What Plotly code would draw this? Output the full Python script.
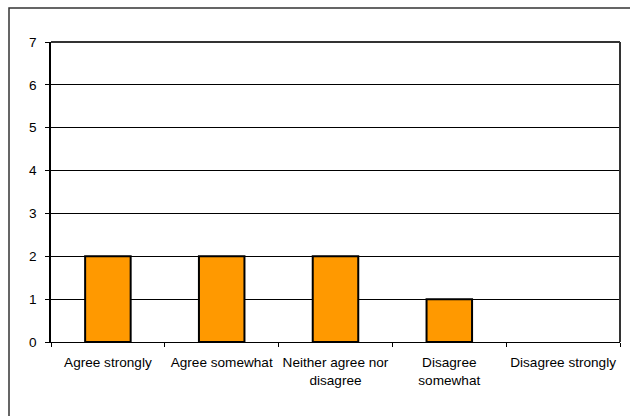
import plotly.graph_objects as go

# Survey response counts
categories = [
    "Agree strongly",
    "Agree somewhat",
    "Neither agree nor<br>disagree",
    "Disagree<br>somewhat",
    "Disagree strongly",
]
counts = [2, 2, 2, 1, 0]
y_ticks = [0, 1, 2, 3, 4, 5, 6, 7]

# no outline for empty categories
outline_widths = [2 if c > 0 else 0 for c in counts]

fig = go.Figure(
    go.Bar(
        x=categories,
        y=counts,
        width=0.4,
        marker=dict(color="#FF9900", line=dict(color="#000000", width=outline_widths)),
    )
)

W, H = 630, 416
ml, mr, mt, mb = 51, 10, 42, 74
pw, ph = W - ml - mr, H - mt - mb

def px_x(p):
    return (p - ml) / pw

def px_y(p):
    return (H - mb - p) / ph

fs = 13.6

fig.update_layout(
    width=W,
    height=H,
    margin=dict(l=ml, r=mr, t=mt, b=mb, autoexpand=False),
    paper_bgcolor="white",
    plot_bgcolor="white",
    showlegend=False,
    font=dict(family="Liberation Sans, Arial, sans-serif", size=fs, color="#000000"),
    xaxis=dict(
        type="category",
        tickson="boundaries",
        ticks="outside",
        ticklen=4,
        tickcolor="#000000",
        tickangle=0,
        automargin=False,
        ticklabelstandoff=8,
        showgrid=False,
        showline=True,
        linecolor="#000000",
        linewidth=1,
        tickfont=dict(size=fs),
        range=[-0.5, 4.5],
    ),
    yaxis=dict(
        range=[0, 7],
        tickvals=y_ticks,
        ticks="outside",
        ticklen=4,
        tickcolor="#000000",
        automargin=False,
        ticklabelstandoff=6,
        showgrid=True,
        gridcolor="#000000",
        gridwidth=1,
        showline=True,
        linecolor="#000000",
        linewidth=1.5,
        zeroline=False,
        tickfont=dict(size=fs),
    ),
    shapes=[
        # top and right frame of the plotting area
        dict(type="line", xref="paper", yref="paper", x0=0, x1=1, y0=1, y1=1,
             line=dict(color="#333333", width=2)),
        dict(type="line", xref="paper", yref="paper", x0=1, x1=1, y0=0, y1=1,
             line=dict(color="#333333", width=2)),
        # chart border
        dict(type="rect", xref="paper", yref="paper",
             x0=px_x(9), x1=px_x(640), y0=px_y(430), y1=px_y(8),
             line=dict(color="#333333", width=1.5), layer="below"),
    ],
)

fig.write_html("out.html")
